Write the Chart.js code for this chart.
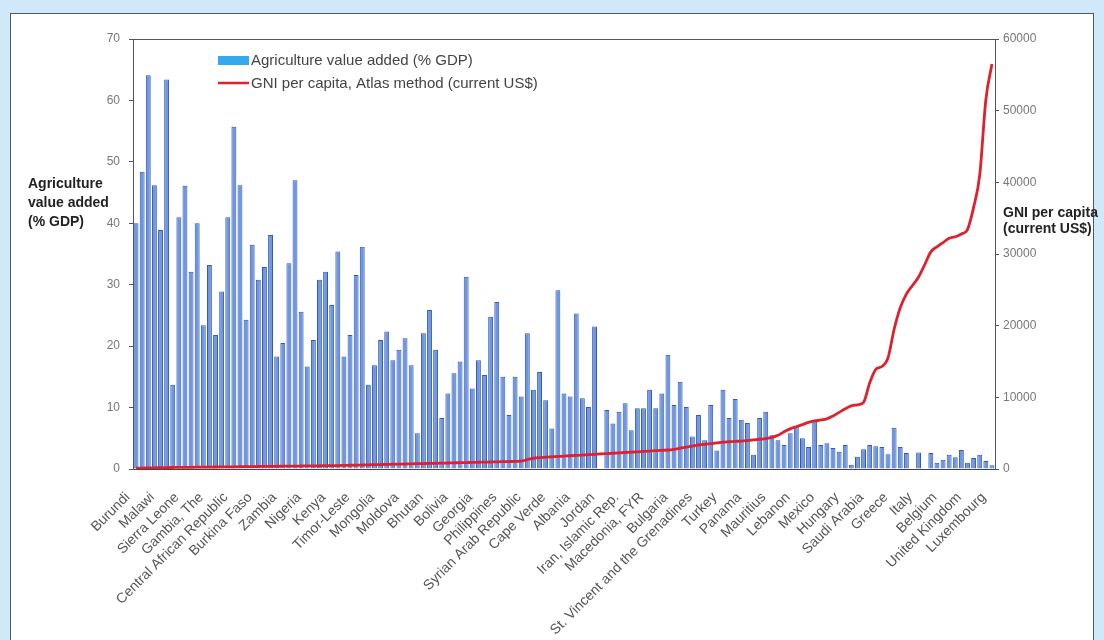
<!DOCTYPE html>
<html>
<head>
<meta charset="utf-8">
<script src="https://cdn.jsdelivr.net/npm/chart.js@4.4.1/dist/chart.umd.min.js"></script>
<style>
  html, body { margin: 0; padding: 0; background: #cfe9fb; width: 1104px; height: 640px; overflow: hidden; }
  #panel { position: absolute; left: 10px; top: 13px; width: 1082px; height: 700px; background: #fff; border: 1px solid #555; }
  #wrap { position: absolute; left: 0; top: 0; width: 1104px; height: 640px; }
</style>
</head>
<body>
<div id="panel"></div>
<div id="wrap"><canvas id="chart" width="1104" height="640"></canvas></div>
<script>
// countries are sorted by GNI per capita; only every 4th one is labelled
const tickNames = [
  "Burundi", "Malawi", "Sierra Leone", "Gambia, The", "Central African Republic", "Burkina Faso",
  "Zambia", "Nigeria", "Kenya", "Timor-Leste", "Mongolia", "Moldova", "Bhutan", "Bolivia",
  "Georgia", "Philippines", "Syrian Arab Republic", "Cape Verde", "Albania", "Jordan",
  "Iran, Islamic Rep.", "Macedonia, FYR", "Bulgaria", "St. Vincent and the Grenadines", "Turkey",
  "Panama", "Mauritius", "Lebanon", "Mexico", "Hungary", "Saudi Arabia", "Greece", "Italy",
  "Belgium", "United Kingdom", "Luxembourg"
];
const labelEvery = 4;

// Agriculture value added (% GDP)
const agriValues = [
  40, 48.4, 64.1, 46.2, 38.9, 63.4, 13.7, 41, 46.1, 32.1, 40, 23.4, 33.2, 21.8, 28.9, 41, 55.7, 46.2, 24.3, 36.5, 30.8, 32.9, 38.1, 18.3,
  20.5, 33.5, 47.0, 25.6, 16.7, 21.0, 30.8, 32.1, 26.7, 35.4, 18.3, 21.8, 31.6, 36.2, 13.7, 16.9, 21.0, 22.4, 17.7, 19.4, 21.3, 16.9, 5.8, 22.1,
  25.9, 19.4, 8.3, 12.3, 15.6, 17.5, 31.3, 13.1, 17.7, 15.3, 24.8, 27.2, 15.0, 8.8, 15.0, 11.8, 22.1, 12.9, 15.8, 11.2, 6.6, 29.1, 12.3,
  11.8, 25.3, 11.5, 10.1, 23.2, null, 9.6, 7.4, 9.3, 10.7, 6.3, 9.9, 9.9, 12.9, 9.9, 12.3, 18.6, 10.4, 14.2, 10.1, 5.3, 8.8, 4.7, 10.4,
  3.0, 12.9, 8.3, 11.4, 8.0, 7.5, 2.3, 8.3, 9.3, 5.5, 4.7, 3.9, 5.8, 6.9, 5.0, 3.6, 8.0, 3.9, 4.2, 3.4, 2.8, 3.9, 0.7, 2.0,
  3.2, 3.9, 3.7, 3.6, 2.4, 6.7, 3.6, 2.6, null, 2.7, null, 2.6, 1.0, 1.5, 2.3, 1.9, 3.1, 1.0, 1.8, 2.3, 1.3, 0.6
];

// GNI per capita, Atlas method (current US$)
const gniValues = [
  110, 130, 160, 170, 180, 200, 210, 220, 230, 240, 250, 260, 270, 280, 290, 300, 310, 320, 330, 340, 350, 360, 370, 380,
  390, 400, 410, 420, 430, 440, 450, 460, 470, 480, 500, 520, 540, 560, 580, 600, 620, 640, 660, 680, 700, 720, 740, 760,
  780, 800, 820, 840, 860, 880, 900, 920, 940, 960, 980, 1000, 1020, 1040, 1060, 1090, 1300, 1500, 1600, 1650, 1700, 1750, 1800,
  1850, 1900, 1950, 2000, 2050, 2100, 2150, 2200, 2250, 2300, 2350, 2400, 2450, 2500, 2550, 2600, 2650, 2750, 2900, 3050, 3200, 3350, 3450, 3550,
  3650, 3750, 3800, 3850, 3900, 3950, 4050, 4150, 4250, 4400, 4700, 5200, 5600, 5900, 6200, 6500, 6700, 6850, 7000, 7400, 7900, 8400, 8800, 8950,
  9300, 12000, 13900, 14300, 15500, 19500, 22500, 24400, 25600, 26800, 28500, 30300, 31000, 31600, 32200, 32400, 32800, 33400, 36500, 41000, 51500, 56500
];

const leftTitle = ["Agriculture", "value added", "(% GDP)"];
const rightTitle = ["GNI per capita", "(current US$)"];

// trailing spaces push the rotated names a little away from the axis, as in the original
const categories = agriValues.map((v, i) => i % labelEvery === 0 ? tickNames[i / labelEvery] + "   " : "");

const FONT = "'Liberation Sans', Arial, sans-serif";

const extras = {
  id: "extras",
  afterDraw(chart) {
    const ctx = chart.ctx;
    const area = chart.chartArea;
    ctx.save();
    // top frame line of the plot
    ctx.strokeStyle = "#555";
    ctx.lineWidth = 1;
    ctx.beginPath();
    ctx.moveTo(area.left, area.top + 0.5);
    ctx.lineTo(area.right, area.top + 0.5);
    ctx.stroke();

    // axis titles
    ctx.fillStyle = "#222";
    ctx.font = "bold 14px " + FONT;
    ctx.textAlign = "left";
    ctx.textBaseline = "middle";
    leftTitle.forEach((t, i) => ctx.fillText(t, 28, 184 + i * 19));
    rightTitle.forEach((t, i) => ctx.fillText(t, 1003, 213 + i * 16));

    // legend inside the plot
    const ds = chart.data.datasets;
    ctx.fillStyle = "#35a9ee";
    ctx.fillRect(218, 56, 31, 9);
    ctx.strokeStyle = ds[1].borderColor;
    ctx.lineWidth = 2.5;
    ctx.beginPath();
    ctx.moveTo(218, 83);
    ctx.lineTo(249, 83);
    ctx.stroke();
    ctx.font = "15px " + FONT;
    ctx.fillStyle = "#444";
    ctx.fillText(ds[0].label, 251, 61);
    ctx.fillText(ds[1].label, 251, 84);
    ctx.restore();
  }
};

new Chart(document.getElementById("chart"), {
  type: "bar",
  data: {
    labels: categories,
    datasets: [
      {
        label: "Agriculture value added (% GDP)",
        data: agriValues,
        yAxisID: "y",
        backgroundColor: "#6b97e5",
        borderColor: "#3857ad",
        borderWidth: 1,
        barPercentage: 0.8,
        categoryPercentage: 1,
        order: 2
      },
      {
        type: "line",
        label: "GNI per capita, Atlas method (current US$)",
        data: gniValues,
        yAxisID: "y1",
        borderColor: "#e0202c",
        borderWidth: 2.8,
        pointRadius: 0,
        cubicInterpolationMode: "monotone",
        order: 1
      }
    ]
  },
  options: {
    responsive: false,
    animation: false,
    layout: { padding: { top: 39, left: 0, right: 0, bottom: 0 } },
    plugins: { legend: { display: false }, tooltip: { enabled: false } },
    scales: {
      x: {
        grid: { display: false },
        border: { color: "#444", width: 1 },
        ticks: {
          autoSkip: false, minRotation: 45, maxRotation: 45, padding: 4,
          color: "#555", font: { family: FONT, size: 14 }
        },
        afterFit: s => { s.height = 171; }
      },
      y: {
        position: "left", min: 0, max: 70,
        grid: { drawOnChartArea: false, tickLength: 4, color: "#555" },
        border: { color: "#555", width: 1 },
        ticks: { stepSize: 10, padding: 9, color: "#777", font: { family: FONT, size: 12 } },
        afterFit: s => { s.width = 133; }
      },
      y1: {
        position: "right", min: 0, max: 60000,
        grid: { drawOnChartArea: false, tickLength: 4, color: "#555" },
        border: { color: "#555", width: 1 },
        ticks: {
          stepSize: 10000, padding: 4, color: "#777", font: { family: FONT, size: 12 },
          callback: v => String(v)
        },
        afterFit: s => { s.width = 109; }
      }
    }
  },
  plugins: [extras]
});
</script>
</body>
</html>
